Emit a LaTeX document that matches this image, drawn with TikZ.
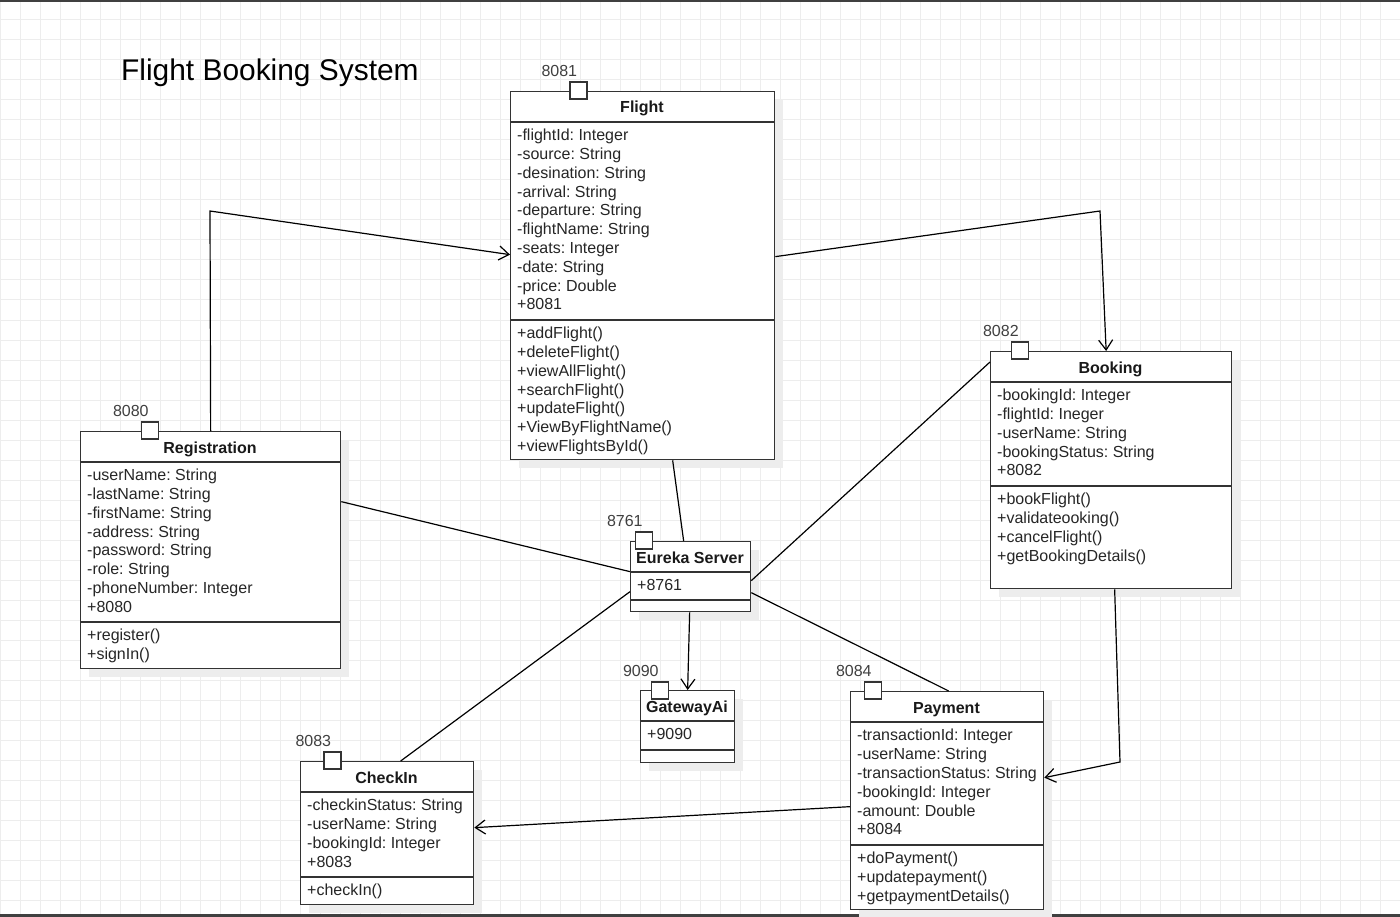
\documentclass[tikz,border=0pt]{standalone}
\usepackage{fontspec}
\setmainfont{Liberation Sans}
\frenchspacing
\usetikzlibrary{arrows.meta,shadows,positioning}

\tikzset{
  classbox/.style={draw=black!80, line width=1.3pt, fill=white, anchor=north west, inner sep=0pt,
    drop shadow={shadow xshift=8pt, shadow yshift=-8pt, fill=black!7, opacity=1}},
  classname/.style={anchor=base, inner sep=0pt, text=black!90, font=\fontsize{16}{18.8}\selectfont\bfseries},
  members/.style={anchor=north west, align=left, inner xsep=7pt, inner ysep=0pt, text=black!85, font=\fontsize{16}{18.8}\selectfont},
  divider/.style={draw=black!80, line width=1.3pt},
  port/.style={draw=black!80, line width=1.3pt, fill=white, minimum size=17pt, inner sep=0pt},
  portlabel/.style={anchor=base west, inner sep=0pt, text=black!75, font=\fontsize{16}{18.8}\selectfont},
  link/.style={draw=black, line width=1.2pt},
  uses/.style={link, -{Straight Barb[length=10pt,width=14pt,line width=1.2pt]}}
}

\begin{document}
\begin{tikzpicture}[x=1pt, y=-1pt]
			%%%%% START %%%%%
			\useasboundingbox (0,0) rectangle (1400,917);
			\fill[white] (0,0) rectangle (1400,917);
			\draw[black!7, line width=1pt, step=20pt] (0,0) grid (1400,917);
			\fill[black!75] (0,0) rectangle (1400,2);
			\fill[black!75] (0,914) rectangle (1400,917);
			
			\node[anchor=base west, inner sep=0pt, font=\fontsize{29.9}{34}\selectfont] (title) at (121,81) {Flight Booking System};
			
			% Flight
			\node[classbox, minimum width=264pt, minimum height=368pt] (flight) at (510,91) {};
			\draw[divider] (510,122) -- (774,122);
			\draw[divider] (510,320) -- (774,320);
			\node[classname] (flightname) at (642,113) {Flight};
			\node[members] (flightattrs) at (510,129) {-flightId: Integer\\-source: String\\-desination: String\\-arrival: String\\-departure: String\\-flightName: String\\-seats: Integer\\-date: String\\-price: Double\\+8081};
			\node[members] (flightops) at (510,327) {+addFlight()\\+deleteFlight()\\+viewAllFlight()\\+searchFlight()\\+updateFlight()\\+ViewByFlightName()\\+viewFlightsById()};
			\node[port] (flightport) at (578.5,90.5) {};
			\node[portlabel] (flightportlbl) at ([xshift=-28pt,yshift=5pt]flightport.north west) {8081};
			
			% Registration
			\node[classbox, minimum width=260pt, minimum height=237pt] (reg) at (80,431) {};
			\draw[divider] (80,462) -- (340,462);
			\draw[divider] (80,622) -- (340,622);
			\node[classname] (regname) at (210,453) {Registration};
			\node[members] (regattrs) at (80,469) {-userName: String\\-lastName: String\\-firstName: String\\-address: String\\-password: String\\-role: String\\-phoneNumber: Integer\\+8080};
			\node[members] (regops) at (80,629) {+register()\\+signIn()};
			\node[port] (regport) at (150,430.5) {};
			\node[portlabel] (regportlbl) at ([xshift=-28pt,yshift=5pt]regport.north west) {8080};
			
			% Booking
			\node[classbox, minimum width=241pt, minimum height=237pt] (booking) at (990,351) {};
			\draw[divider] (990,382) -- (1231,382);
			\draw[divider] (990,486) -- (1231,486);
			\node[classname] (bookingname) at (1110.5,373) {Booking};
			\node[members] (bookingattrs) at (990,389) {-bookingId: Integer\\-flightId: Ineger\\-userName: String\\-bookingStatus: String\\+8082};
			\node[members] (bookingops) at (990,493) {+bookFlight()\\+validateooking()\\+cancelFlight()\\+getBookingDetails()};
			\node[port] (bookingport) at (1020,350.5) {};
			\node[portlabel] (bookingportlbl) at ([xshift=-28pt,yshift=5pt]bookingport.north west) {8082};
			
			% Eureka Server
			\node[classbox, minimum width=120pt, minimum height=70pt] (eureka) at (630,541) {};
			\draw[divider] (630,572) -- (750,572);
			\draw[divider] (630,600) -- (750,600);
			\node[port] (eurekaport) at (644,540.5) {};
			\node[portlabel] (eurekaportlbl) at ([xshift=-28pt,yshift=5pt]eurekaport.north west) {8761};
			\node[classname] (eurekaname) at (690,563) {Eureka Server};
			\node[members] (eurekaattrs) at (630,579) {+8761};
			
			% GatewayAi
			\node[classbox, minimum width=94pt, minimum height=72pt] (gateway) at (640,690) {};
			\draw[divider] (640,721) -- (734,721);
			\draw[divider] (640,750) -- (734,750);
			\node[port] (gatewayport) at (660,690.5) {};
			\node[portlabel] (gatewayportlbl) at ([xshift=-28pt,yshift=5pt]gatewayport.north west) {9090};
			\node[classname] (gatewayname) at (687,712) {GatewayAi};
			\node[members] (gatewayattrs) at (640,728) {+9090};
			
			% CheckIn
			\node[classbox, minimum width=173pt, minimum height=143pt] (checkin) at (300,761) {};
			\draw[divider] (300,792) -- (473,792);
			\draw[divider] (300,877) -- (473,877);
			\node[classname] (checkinname) at (386.5,783) {CheckIn};
			\node[members] (checkinattrs) at (300,799) {-checkinStatus: String\\-userName: String\\-bookingId: Integer\\+8083};
			\node[members] (checkinops) at (300,884) {+checkIn()};
			\node[port] (checkinport) at (332.5,760.5) {};
			\node[portlabel] (checkinportlbl) at ([xshift=-28pt,yshift=5pt]checkinport.north west) {8083};
			
			% Payment
			\node[classbox, minimum width=193pt, minimum height=218pt] (payment) at (850,691) {};
			\draw[divider] (850,722) -- (1043,722);
			\draw[divider] (850,845) -- (1043,845);
			\node[classname] (paymentname) at (946.5,713) {Payment};
			\node[members] (paymentattrs) at (850,729) {-transactionId: Integer\\-userName: String\\-transactionStatus: String\\-bookingId: Integer\\-amount: Double\\+8084};
			\node[members] (paymentops) at (850,852) {+doPayment()\\+updatepayment()\\+getpaymentDetails()};
			\node[port] (paymentport) at (873,690.5) {};
			\node[portlabel] (paymentportlbl) at ([xshift=-28pt,yshift=5pt]paymentport.north west) {8084};
			
			% connectors
			\coordinate (regbend) at (210,211);
			\coordinate (flightbend) at (1100,211);
			\coordinate (bookingbend) at (1120,762);
			
			\draw[uses] (reg.north) -- (regbend) -- ([yshift=21pt]flight.west);
			\draw[uses] ([yshift=19pt]flight.east) -- (flightbend) -- ([xshift=-5pt]booking.north);
			\draw[link] ([xshift=30pt]flight.south) -- ([xshift=-7pt]eureka.north);
			\draw[link] ([yshift=48.5pt]reg.east) -- ([yshift=5pt]eureka.west);
			\draw[link] ([yshift=-11pt]booking.north west) -- ([yshift=-4pt]eureka.east);
			\draw[link] ([yshift=-15pt]eureka.west) -- ([xshift=13.5pt]checkin.north);
			\draw[link] ([yshift=-16pt]eureka.east) -- ([xshift=1.5pt]payment.north);
			\draw[uses] ([xshift=-1pt]eureka.south) -- (gateway.north);
			\draw[uses] ([xshift=3.5pt]booking.south) -- (bookingbend) -- ([yshift=23pt]payment.east);
			\draw[uses] ([yshift=-6pt]payment.west) -- ([yshift=5.5pt]checkin.east);
			
			%%%%% END %%%%%
\end{tikzpicture}
\end{document}
